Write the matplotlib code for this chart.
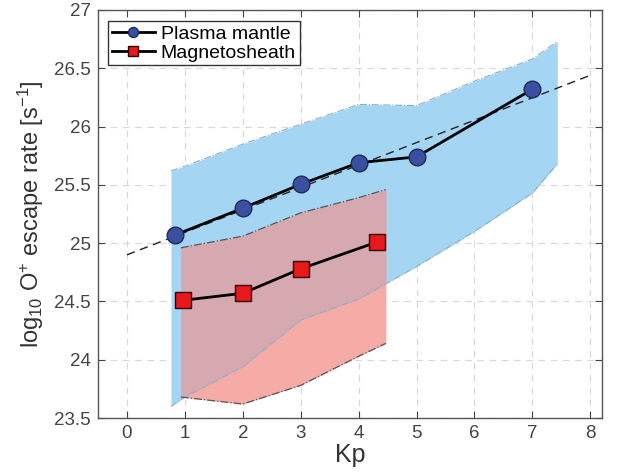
import numpy as np
import matplotlib
matplotlib.use("Agg")
import matplotlib.pyplot as plt

plt.rcParams['font.family'] = ['Liberation Sans', 'DejaVu Sans']
plt.rcParams['mathtext.fontset'] = 'custom'
plt.rcParams['mathtext.rm'] = 'Liberation Sans'
plt.rcParams['mathtext.it'] = 'Liberation Sans:italic'

# Plasma mantle
pm_kp = [0.83, 2, 3, 4, 5, 7]
pm_rate = [25.07, 25.30, 25.505, 25.69, 25.74, 26.32]
pm_band_kp = [0.76, 1, 2, 3, 4, 5, 6, 7, 7.43]
pm_band_hi = [25.62, 25.66, 25.85, 26.02, 26.19, 26.18, 26.39, 26.58, 26.73]
pm_band_lo = [23.60, 23.68, 23.94, 24.34, 24.52, 24.80, 25.10, 25.43, 25.68]

# Magnetosheath
ms_kp = [0.97, 2, 3, 4.32]
ms_rate = [24.51, 24.57, 24.78, 25.01]
ms_band_kp = [0.93, 2, 3, 4, 4.47]
ms_band_hi = [24.96, 25.06, 25.26, 25.39, 25.46]
ms_band_lo = [23.68, 23.62, 23.78, 24.03, 24.14]

# Linear fit
fit_kp = [0, 8]
fit_intercept = 24.90
fit_slope = 0.1925

xticks = [0, 1, 2, 3, 4, 5, 6, 7, 8]
yticks = [23.5, 24, 24.5, 25, 25.5, 26, 26.5, 27]

blue_fill = "#a4d6f3"
pink_fill = "#f5aca7"
mauve_fill = "#d6a9b1"

fig = plt.figure(figsize=(6.27, 4.76), dpi=100)
ax = fig.add_axes([0.1563, 0.1218, 0.8037, 0.8572])

ax.fill_between(pm_band_kp, pm_band_lo, pm_band_hi, color=blue_fill, lw=0, zorder=1)
ax.fill_between(ms_band_kp, ms_band_lo, ms_band_hi, color=pink_fill, lw=0, zorder=1.1)
# overlap region
xg = np.linspace(ms_band_kp[0], ms_band_kp[-1], 400)
bh = np.interp(xg, pm_band_kp, pm_band_hi)
bl = np.interp(xg, pm_band_kp, pm_band_lo)
rh = np.interp(xg, ms_band_kp, ms_band_hi)
rl = np.interp(xg, ms_band_kp, ms_band_lo)
oh = np.minimum(bh, rh)
ol = np.maximum(bl, rl)
ax.fill_between(xg, ol, oh, where=oh > ol, color=mauve_fill, lw=0, zorder=1.2)

# band edges
ax.plot(pm_band_kp, pm_band_hi, color="#8fb0c4", lw=0.8, ls="-.", zorder=1.5)
ax.plot(pm_band_kp, pm_band_lo, color="#8fb0c4", lw=0.8, ls="-.", zorder=1.5)
ax.plot(ms_band_kp, ms_band_hi, color="#555555", lw=0.9, ls="-.", zorder=1.6)
ax.plot(ms_band_kp, ms_band_lo, color="#555555", lw=0.9, ls="-.", zorder=1.6)

# fit
fit_y = [fit_intercept + fit_slope * k for k in fit_kp]
ax.plot(fit_kp, fit_y, color="#222222", lw=1.0, ls=(0, (6, 4)), zorder=3)

ax.plot(pm_kp, pm_rate, color="black", lw=2, marker="o", ms=12,
        mfc="#3b4fa0", mec="#1e2a5c", mew=1.0, zorder=4, label="Plasma mantle")
ax.plot(ms_kp, ms_rate, color="black", lw=2, marker="s", ms=11,
        mfc="#e8191c", mec="#300000", mew=1.0, zorder=4, label="Magnetosheath")

ax.set_xlim(-0.5, 8.2)
ax.set_ylim(23.5, 27)
ax.set_xticks(xticks)
ax.set_yticks(yticks)
ax.set_yticklabels([f"{v:g}" for v in yticks])
ax.grid(True, ls=(0, (6, 5)), color="#d8d8d8", lw=0.8)
ax.set_axisbelow(True)
ax.tick_params(direction="in", top=True, right=True, length=5, labelsize=13.5,
               colors="#444444", labelcolor="#444444", pad=5)
for s in ax.spines.values():
    s.set_color("#555555")
    s.set_linewidth(1.0)

ax.set_xlabel("Kp", fontsize=18, color="#333333", labelpad=1)
ax.set_ylabel(r"log$_{10}$ O$^{+}$ escape rate [s$^{-1}$]", fontsize=17,
              color="#333333", labelpad=6)

leg = ax.legend(loc="upper left", fontsize=14, frameon=True, fancybox=False,
                edgecolor="#333333", framealpha=1, borderpad=0.2, handlelength=2.2,
                handletextpad=0.3, labelspacing=0.05, markerscale=0.6,
                borderaxespad=0.0, bbox_to_anchor=(0.02, 0.972))
leg.get_frame().set_linewidth(1.0)

fig.savefig("out.png", dpi=100)
